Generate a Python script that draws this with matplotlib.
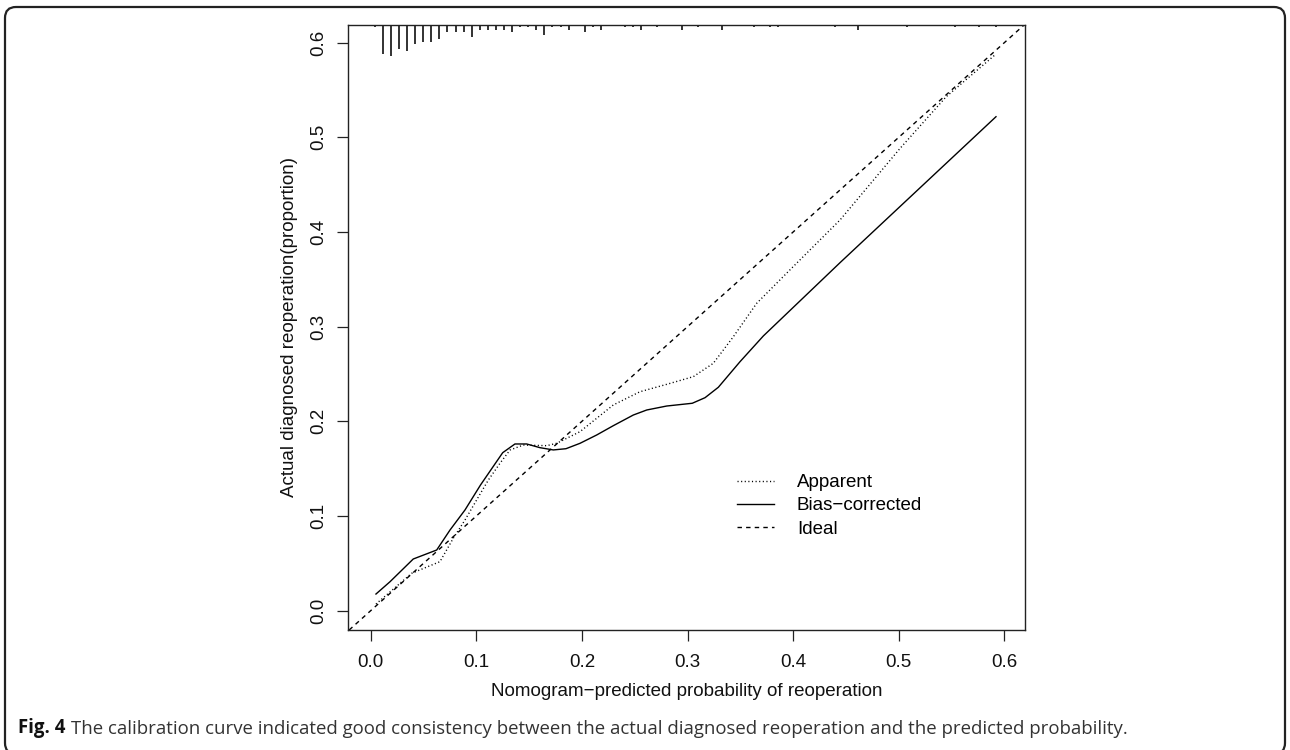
import matplotlib
matplotlib.use("Agg")
import matplotlib.pyplot as plt
from matplotlib.lines import Line2D
from matplotlib.patches import FancyBboxPatch
from matplotlib.transforms import IdentityTransform
import numpy as np

plt.rcParams['font.family'] = ['Liberation Sans', 'DejaVu Sans']

# ---- data ----
bias_x = [0.005, 0.0183, 0.0403, 0.0625, 0.0751, 0.0893, 0.104, 0.125, 0.1366, 0.1477,
          0.1603, 0.1729, 0.1849, 0.1982, 0.214, 0.2297, 0.2487, 0.2614, 0.2803, 0.3045,
          0.3166, 0.3292, 0.3497, 0.3718, 0.4444, 0.5921]
bias_y = [0.0176, 0.0306, 0.0546, 0.0641, 0.0852, 0.1064, 0.1328, 0.1669, 0.1761, 0.1761,
          0.1722, 0.1698, 0.1711, 0.1768, 0.1856, 0.1954, 0.2067, 0.212, 0.2162, 0.2191,
          0.225, 0.236, 0.263, 0.2902, 0.3676, 0.5218]

app_x = [0.005, 0.0388, 0.0656, 0.0782, 0.0893, 0.104, 0.1114, 0.1224, 0.1319, 0.1445,
         0.1667, 0.1761, 0.1982, 0.2297, 0.255, 0.2803, 0.3055, 0.3244, 0.3434, 0.3655,
         0.397, 0.4444, 0.5013, 0.545, 0.5921]
app_y = [0.007, 0.0395, 0.0518, 0.0765, 0.0958, 0.124, 0.138, 0.1557, 0.1697, 0.175,
         0.1743, 0.1768, 0.1891, 0.2173, 0.2313, 0.2391, 0.2472, 0.2613, 0.2894, 0.3247,
         0.36, 0.4127, 0.4884, 0.543, 0.588]

rug_x = [0.0038, 0.0113, 0.0189, 0.0268, 0.0347, 0.0423, 0.0498, 0.0574, 0.065, 0.0725,
         0.0805, 0.088, 0.0959, 0.1035, 0.111, 0.1187, 0.1263, 0.1338, 0.1414, 0.149,
         0.1565, 0.1641, 0.172, 0.1799, 0.1875, 0.2027, 0.2102, 0.2178, 0.2408, 0.2484,
         0.256, 0.2711, 0.2945, 0.3097, 0.3324, 0.363, 0.3781, 0.386, 0.4397, 0.4617,
         0.5075, 0.5533, 0.5763, 0.5921]
rug_count = [1, 12, 13, 10, 11, 8, 7, 7, 6, 3,
             3, 3, 5, 2, 2, 2, 2, 3, 1, 1,
             2, 4, 1, 1, 2, 3, 1, 2, 1, 1,
             2, 1, 2, 1, 2, 1, 1, 1, 1, 2,
             1, 1, 1, 1]

xticks = [0.0, 0.1, 0.2, 0.3, 0.4, 0.5, 0.6]
yticks = [0.0, 0.1, 0.2, 0.3, 0.4, 0.5, 0.6]
legend_labels = ["Apparent", "Bias\u2212corrected", "Ideal"]
xlabel = "Nomogram\u2212predicted probability of reoperation"
ylabel = "Actual diagnosed reoperation(proportion)"
cap_bold = "Fig. 4"
cap_text = "The calibration curve indicated good consistency between the actual diagnosed reoperation and the predicted probability."

# ---- figure ----
fig = plt.figure(figsize=(12.9, 7.5), dpi=100)
ax = fig.add_axes([0.2700, 0.1600, 0.5246, 0.8067])
xlim = (-0.0212, 0.6196)
ylim = (-0.0204, 0.6187)
ax.set_xlim(*xlim)
ax.set_ylim(*ylim)

dot_style = (0, (0.8, 1.8))
dash_style = (0, (3.2, 3.0))

ax.axline((0, 0), slope=1, color='black', lw=1.0, linestyle=dash_style)
ax.plot(app_x, app_y, color='black', lw=1.0, linestyle=dot_style)
ax.plot(bias_x, bias_y, color='black', lw=1.0, linestyle='-')

unit = 0.00254
top = ylim[1]
ax.vlines(rug_x, [top - c * unit for c in rug_count], top, color='#222222', lw=1.3)

for s in ax.spines.values():
    s.set_linewidth(1.0)
    s.set_color('#222222')

fs = 13.5
ax.set_xticks(xticks)
ax.set_xticklabels([f"{v:.1f}" for v in xticks])
ax.set_yticks(yticks)
ax.set_yticklabels([f"{v:.1f}" for v in yticks], rotation=90, va='center')
ax.tick_params(axis='both', direction='out', length=8, width=0.9, color='#222222',
               labelsize=fs, labelcolor='#111111')
ax.tick_params(axis='x', pad=9)
ax.tick_params(axis='y', pad=7)

ax.set_xlabel(xlabel, fontsize=fs, color='#111111')
ax.set_ylabel(ylabel, fontsize=fs, color='#111111')
ax.xaxis.set_label_coords(0.5, -0.087)
ax.yaxis.set_label_coords(-0.075, 0.5)

handles = [Line2D([], [], color='black', lw=1.0, linestyle=dot_style),
           Line2D([], [], color='black', lw=1.0, linestyle='-'),
           Line2D([], [], color='black', lw=1.0, linestyle=dash_style)]
ax.legend(handles, legend_labels, loc='upper left',
          bbox_to_anchor=(737 / 1290, 1 - 474 / 750), bbox_transform=fig.transFigure,
          frameon=False, borderpad=0, borderaxespad=0, handlelength=1.95,
          handletextpad=1.25, labelspacing=0.33, fontsize=fs)

# caption
t1 = fig.text(18 / 1290, 1 - 738 / 750, cap_bold, fontsize=13.4, fontweight='bold',
              family=['Open Sans', 'DejaVu Sans'], color='#111111', va='bottom', ha='left')
ax.annotate(cap_text, xy=(1, 0), xycoords=t1, xytext=(4, 0), textcoords='offset points',
            va='bottom', ha='left', fontsize=13.4, family=['Open Sans', 'DejaVu Sans'],
            color='#333333', annotation_clip=False)

# rounded frame
frame = FancyBboxPatch((5, -4), 1280, 747, boxstyle="round,pad=0,rounding_size=11",
                       transform=IdentityTransform(), fill=False, lw=1.6,
                       edgecolor='#222222')
fig.patches.append(frame)

fig.savefig("out.png", dpi=100)
